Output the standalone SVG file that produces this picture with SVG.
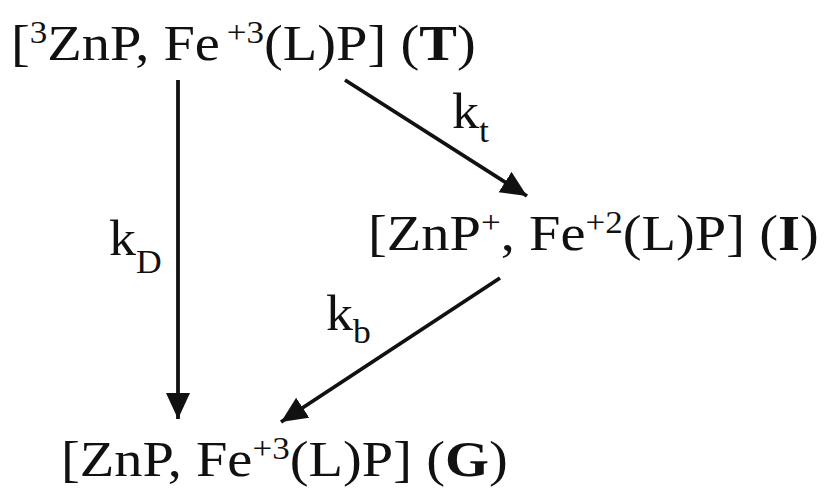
<svg xmlns="http://www.w3.org/2000/svg" width="828" height="493" viewBox="0 0 828 493">
<style>
text{font-family:"Liberation Serif","Times New Roman",serif;fill:#111;}
.m{font-size:50px;}
.sup{font-size:31px;}
.sub{font-size:33px;}
.b{font-weight:bold;}
.ln{stroke:#111;stroke-width:3.8;fill:none;}
</style>
<defs>
<marker id="ah" markerUnits="userSpaceOnUse" markerWidth="28" markerHeight="26" refX="26" refY="12" orient="auto" viewBox="0 0 28 26">
<path d="M0,0 L26,12 L0,24 z" fill="#111"/>
</marker>
</defs>
<rect width="828" height="493" fill="#fff"/>
<g id="connectors">
<line class="ln" x1="178" y1="80" x2="178" y2="419" marker-end="url(#ah)"/>
<line class="ln" x1="345" y1="80" x2="527" y2="196" marker-end="url(#ah)"/>
<line class="ln" x1="500" y1="278" x2="281" y2="422" marker-end="url(#ah)"/>
</g>
<g id="node-T">
<text class="m" transform="translate(11,60) scale(1.13,1)">[<tspan class="sup" dy="-17">3</tspan><tspan dy="17">ZnP, Fe</tspan><tspan class="sup" dx="6" dy="-17">+3</tspan><tspan dy="17">(L)P] (</tspan><tspan class="b">T</tspan>)</text>
</g>
<g id="node-I">
<text class="m" transform="translate(368,250) scale(1.13,1)">[ZnP<tspan class="sup" dy="-17">+</tspan><tspan dy="17">, Fe</tspan><tspan class="sup" dy="-17">+2</tspan><tspan dy="17">(L)P] (</tspan><tspan class="b">I</tspan>)</text>
</g>
<g id="node-G">
<text class="m" transform="translate(61,476) scale(1.13,1)">[ZnP, Fe<tspan class="sup" dy="-17">+3</tspan><tspan dy="17">(L)P] (</tspan><tspan class="b">G</tspan>)</text>
</g>
<g id="labels">
<text class="m" transform="translate(109,255) scale(1.08,1)">k<tspan class="sub" dy="18">D</tspan></text>
<text class="m" transform="translate(452,128) scale(1.08,1)">k<tspan class="sub" dy="14">t</tspan></text>
<text class="m" transform="translate(326,330) scale(1.08,1)">k<tspan class="sub" dy="13">b</tspan></text>
</g>
</svg>
